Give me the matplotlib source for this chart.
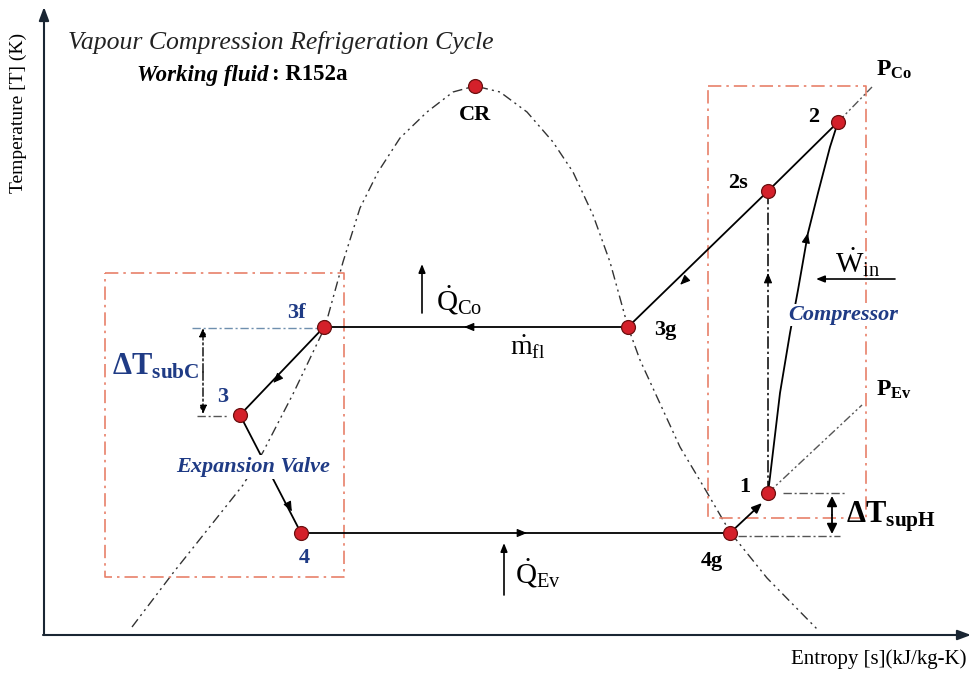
import matplotlib.pyplot as plt

plt.rcParams['font.family'] = 'Liberation Serif'
plt.rcParams['mathtext.fontset'] = 'custom'
plt.rcParams['mathtext.rm'] = 'Liberation Serif'
plt.rcParams['mathtext.it'] = 'Liberation Serif:italic'
plt.rcParams['mathtext.bf'] = 'Liberation Serif:bold'

# saturation dome, schematic entropy / temperature units
dome_s = [132, 173, 243, 263, 293, 325, 343, 360, 378, 400, 427, 453, 475,
          500, 527, 553, 573, 593, 610, 628, 640, 680, 705, 730, 767, 818]
dome_T = [50, 104, 192, 225, 283, 350, 415, 469, 505, 539, 565, 585, 591,
          585, 565, 535, 505, 462, 415, 350, 317, 230, 188, 145, 99, 47]

# cycle states
state_names = ['CR', '2', '2s', '3g', '3f', '3', '4', '4g', '1']
state_s = [475, 838, 768, 628, 324, 240, 301, 730, 768]
state_T = [591, 555, 486, 350, 350, 262, 144, 144, 184]

# real compression 1 -> 2
comp_s = [768, 770, 780, 790, 798, 808, 818, 830, 838]
comp_T = [184, 200, 284, 344, 387, 444, 484, 530, 555]

P = dict(zip(state_names, zip(state_s, state_T)))

BLUE = '#1f3b85'
RED_BOX = '#e8806a'
GREY = '#555555'

fig = plt.figure(figsize=(9.72, 6.77), dpi=100)
ax = fig.add_axes([0, 0, 1, 1])
ax.set_xlim(0, 972)
ax.set_ylim(0, 677)
ax.axis('off')


def arrow(x0, y0, x1, y1, color='black', lw=1.2, style='-|>', hl=0.6, hw=0.25, ls='-'):
    ax.annotate('', xy=(x1, y1), xytext=(x0, y0),
                arrowprops=dict(arrowstyle=f'{style},head_length={hl},head_width={hw}',
                                color=color, lw=lw, shrinkA=0, shrinkB=0, linestyle=ls))


def mid_arrow(x, y, dx, dy):
    n = (dx ** 2 + dy ** 2) ** 0.5
    arrow(x - dx / n, y - dy / n, x + dx / n * 4, y + dy / n * 4, lw=0.8)


# axes
arrow(44, 42, 44, 670, color='#1a2633', lw=1.5, hl=0.8, hw=0.3)
arrow(43, 42, 971, 42, color='#1a2633', lw=1.5, hl=0.8, hw=0.3)

# dome
ax.plot(dome_s, dome_T, color='#333333', lw=1.0, ls=(0, (7, 3, 1.5, 3, 1.5, 3)))

# component boxes
box_ls = (0, (8, 3, 1.5, 3))
ax.plot([105, 344, 344, 105, 105], [404, 404, 100, 100, 404], color=RED_BOX, lw=1.2, ls=box_ls)
ax.plot([708, 866, 866, 708, 708], [591, 591, 159, 159, 591], color=RED_BOX, lw=1.2, ls=box_ls)

# isobars
iso_ls = (0, (6, 2, 1.5, 2, 1.5, 2))
ax.plot([P['2'][0], 872], [P['2'][1], 590], color=GREY, lw=1.0, ls=iso_ls)
ax.plot([P['1'][0], 862], [P['1'][1], 272], color=GREY, lw=1.0, ls=iso_ls)

# cycle lines
lk = dict(color='black', lw=1.3)
ax.plot([P['3g'][0], P['3f'][0]], [P['3g'][1], P['3f'][1]], **lk)
ax.plot([P['2'][0], P['2s'][0], P['3g'][0]], [P['2'][1], P['2s'][1], P['3g'][1]], **lk)
ax.plot([P['3f'][0], P['3'][0]], [P['3f'][1], P['3'][1]], **lk)
ax.plot([P['3'][0], P['4'][0]], [P['3'][1], P['4'][1]], **lk)
ax.plot([P['4'][0], P['4g'][0]], [P['4'][1], P['4g'][1]], **lk)
ax.plot(comp_s, comp_T, **lk)
ax.plot([P['1'][0], P['2s'][0]], [P['1'][1], P['2s'][1]], color='black', lw=1.1,
        ls=(0, (8, 2, 1.5, 2)))
arrow(P['4g'][0], P['4g'][1], 762, 174, lw=1.3)

mid_arrow(468, 350, -1, 0)
mid_arrow(683, 395, -1, -0.97)
mid_arrow(276, 297, -84, -88)
mid_arrow(290, 169, 61, -118)
mid_arrow(523, 144, 1, 0)
mid_arrow(807, 440, 10, 50)
mid_arrow(768, 400, 0, 1)

# subcooling / superheat markers
ax.plot([192, 320], [349, 349], color='#6f8fae', lw=1.0, ls=(0, (6, 2, 1.5, 2)))
ax.plot([197, 228], [261, 261], color=GREY, lw=1.0, ls=(0, (6, 2, 1.5, 2)))
arrow(203, 305, 203, 349, lw=1.0, hl=0.5, hw=0.22, ls=(0, (6, 2, 1.5, 2)))
arrow(203, 305, 203, 263, lw=1.0, hl=0.5, hw=0.22, ls=(0, (6, 2, 1.5, 2)))
ax.plot([783, 845], [184, 184], color=GREY, lw=1.0, ls=(0, (6, 2, 1.5, 2)))
ax.plot([738, 840], [141, 141], color=GREY, lw=1.0, ls=(0, (6, 2, 1.5, 2)))
arrow(832, 162, 832, 181, lw=1.3, hl=0.6, hw=0.3)
arrow(832, 162, 832, 143, lw=1.3, hl=0.6, hw=0.3)

# heat / work arrows
arrow(422, 364, 422, 413, lw=1.2, hl=0.5, hw=0.2)
arrow(504, 82, 504, 134, lw=1.2, hl=0.5, hw=0.2)
arrow(895, 398, 816, 398, lw=1.2, hl=0.5, hw=0.2)

# state points
ax.plot(state_s, state_T, 'o', ms=10, mfc='#d4202a', mec='#6a1010', mew=0.9, zorder=5)

# labels
lab = dict(fontsize=16, fontweight='bold', ha='center', va='center')
ax.text(475, 562, 'CR', **lab)
ax.text(814, 560, '2', **lab)
ax.text(738, 494, '2s', **lab)
ax.text(665, 347, '3g', **lab)
ax.text(712, 116, '4g', **lab)
ax.text(745, 190, '1', **lab)
ax.text(296, 364, '3f', color=BLUE, **lab)
ax.text(223, 280, '3', color=BLUE, **lab)
ax.text(304, 119, '4', color=BLUE, **lab)

ax.text(876, 607, r'$\mathbf{P}_{\mathbf{Co}}$', fontsize=17, va='center')
ax.text(876, 287, r'$\mathbf{P}_{\mathbf{Ev}}$', fontsize=17, va='center')
ax.text(436, 377, r'$\dot{\mathrm{Q}}_{\mathrm{Co}}$', fontsize=21, va='center')
ax.text(515, 104, r'$\dot{\mathrm{Q}}_{\mathrm{Ev}}$', fontsize=21, va='center')
ax.text(510, 330, r'$\dot{\mathrm{m}}_{\mathrm{fl}}$', fontsize=20, va='center')
ax.text(835, 415, r'$\dot{\mathrm{W}}_{\mathrm{in}}$', fontsize=21, va='center')
ax.text(112, 310, r'$\mathbf{\Delta T}_{\mathbf{subC}}$', fontsize=22, va='center', color=BLUE)
ax.text(846, 160, r'$\mathbf{\Delta T}_{\mathbf{supH}}$', fontsize=22, va='center')

ax.text(843, 362, 'Compressor', fontsize=16, fontweight='bold', style='italic',
        color=BLUE, ha='center', va='center',
        bbox=dict(facecolor='white', edgecolor='none', pad=1.0))
ax.text(253, 210, 'Expansion Valve', fontsize=16, fontweight='bold', style='italic',
        color=BLUE, ha='center', va='center',
        bbox=dict(facecolor='white', edgecolor='none', pad=1.5))

ax.text(68, 635, 'Vapour Compression Refrigeration Cycle', fontsize=18.5,
        style='italic', color='#222222', va='center')
ax.text(268, 602, 'Working fluid', fontsize=16.5, fontweight='bold', style='italic',
        ha='right', va='center')
ax.text(272, 602, ': R152a', fontsize=16.5, fontweight='bold', va='center')

ax.text(18, 564, 'Temperature [T] (K)', fontsize=14, rotation=90, ha='center', va='center')
ax.text(966, 18, 'Entropy [s](kJ/kg-K)', fontsize=15, ha='right', va='center')

fig.savefig('out.png', dpi=100)
